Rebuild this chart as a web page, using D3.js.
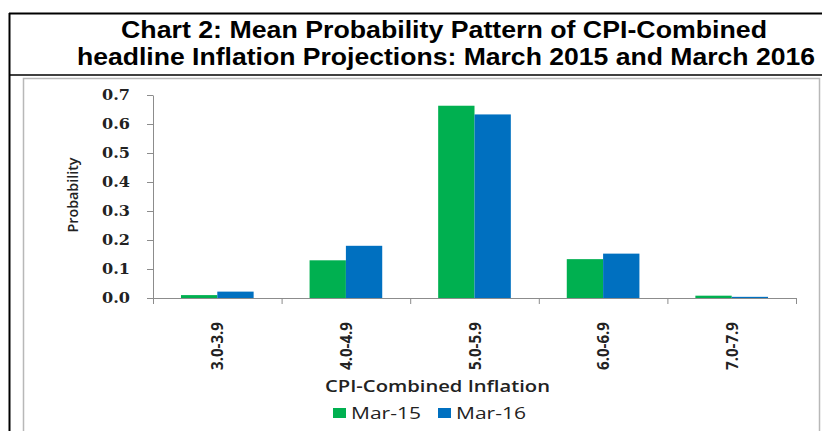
<!DOCTYPE html>
<html>
<head>
<meta charset="utf-8">
<script src="https://cdn.jsdelivr.net/npm/d3@7"></script>
<style>
  body { margin: 0; background: #fff; }
  svg { display: block; }
</style>
</head>
<body>
<svg class="chart" width="822" height="431"></svg>
<script>
"use strict";

let categories = ["3.0-3.9", "4.0-4.9", "5.0-5.9", "6.0-6.9", "7.0-7.9"];
let seriesNames = ["Mar-15", "Mar-16"];
let mar15 = [0.01, 0.13, 0.663, 0.134, 0.008];
let mar16 = [0.022, 0.18, 0.633, 0.153, 0.004];
let yTicks = [0, 0.1, 0.2, 0.3, 0.4, 0.5, 0.6, 0.7];
let colors = ["#00b050", "#0070c0"];

let svg = d3.select('.chart');

// outer frame of the table cell
svg.append('line').attr('x1', 9.5).attr('x2', 9.5).attr('y1', 13).attr('y2', 431)
  .attr('stroke', '#000').attr('stroke-width', 2);
svg.append('line').attr('x1', 9).attr('x2', 822).attr('y1', 13.5).attr('y2', 13.5)
  .attr('stroke', '#000').attr('stroke-width', 2);
svg.append('line').attr('x1', 9).attr('x2', 822).attr('y1', 75).attr('y2', 75)
  .attr('stroke', '#000').attr('stroke-width', 1.5);

// chart area border
svg.append('rect').attr('x', 23.5).attr('y', 78.5).attr('width', 796).attr('height', 360)
  .attr('fill', '#fff').attr('stroke', '#b8b8b8').attr('stroke-width', 1.5);

// title
let titleLines = [
  { text: "Chart 2: Mean Probability Pattern of CPI-Combined", x: 121, y: 38, w: 646 },
  { text: "headline Inflation Projections: March 2015 and March 2016", x: 77, y: 65, w: 738 }
];
svg.selectAll('.title')
  .data(titleLines)
  .enter()
  .append('text')
  .attr('class', 'title')
  .attr('x', d => d.x)
  .attr('y', d => d.y)
  .attr('textLength', d => d.w)
  .attr('lengthAdjust', 'spacingAndGlyphs')
  .style('font-family', 'Liberation Sans, Arial, sans-serif')
  .style('font-weight', 'bold')
  .style('font-size', '24px')
  .style('fill', '#000')
  .text(d => d.text);

let margin = { left: 153, right: 796, top: 95, bottom: 298 };

let x0 = d3.scaleBand()
  .domain(categories)
  .range([margin.left, margin.right]);

let x1 = d3.scaleBand()
  .domain(seriesNames)
  .range([0, x0.bandwidth()])
  .paddingInner(0)
  .paddingOuter(0.77);

let y = d3.scaleLinear()
  .domain([0, 0.7])
  .range([margin.bottom, margin.top]);

// y axis
let yAxis = svg.append('g')
  .attr('transform', "translate(" + margin.left + ",0)")
  .call(d3.axisLeft(y).tickValues(yTicks).tickFormat(d3.format(".1f")).tickSize(6).tickSizeOuter(0));
yAxis.select('.domain').attr('stroke', '#8c8c8c');
yAxis.selectAll('.tick line').attr('stroke', '#8c8c8c');
yAxis.selectAll('.tick text')
  .attr('x', -23)
  .attr('textLength', 28)
  .attr('lengthAdjust', 'spacingAndGlyphs')
  .style('font-family', 'DejaVu Serif, serif')
  .style('font-weight', 'bold')
  .style('font-size', '15px')
  .style('fill', '#222');

// bars
let data = categories.map((c, i) => ({ cat: c, values: [mar15[i], mar16[i]] }));
let groups = svg.selectAll('.group')
  .data(data)
  .enter()
  .append('g')
  .attr('class', 'group')
  .attr('transform', d => "translate(" + x0(d.cat) + ",0)");

groups.selectAll('rect')
  .data(d => d.values.map((v, j) => ({ name: seriesNames[j], value: v, color: colors[j] })))
  .enter()
  .append('rect')
  .attr('x', d => x1(d.name))
  .attr('width', x1.bandwidth())
  .attr('y', d => y(d.value))
  .attr('height', d => y(0) - y(d.value))
  .attr('fill', d => d.color);

// x axis line and boundary ticks
svg.append('line')
  .attr('x1', margin.left).attr('x2', margin.right)
  .attr('y1', y(0) + 0.5).attr('y2', y(0) + 0.5)
  .attr('stroke', '#8c8c8c');
let boundaries = categories.map(c => x0(c)).concat([x0(categories[categories.length - 1]) + x0.bandwidth()]);
svg.selectAll('.xtick')
  .data(boundaries)
  .enter()
  .append('line')
  .attr('class', 'xtick')
  .attr('x1', d => d + 0.5).attr('x2', d => d + 0.5)
  .attr('y1', y(0)).attr('y2', y(0) + 6)
  .attr('stroke', '#8c8c8c');

// category labels, rotated
svg.selectAll('.xlabel')
  .data(categories)
  .enter()
  .append('text')
  .attr('class', 'xlabel')
  .attr('transform', d => "translate(" + (x0(d) + x0.bandwidth() / 2 + 6) + ",370) rotate(-90)")
  .attr('textLength', 48)
  .attr('lengthAdjust', 'spacingAndGlyphs')
  .style('font-family', 'Open Sans, sans-serif')
  .style('font-weight', 'bold')
  .style('font-size', '16px')
  .style('fill', '#222')
  .text(d => d);

// axis titles
svg.append('text')
  .attr('transform', "translate(78,195) rotate(-90)")
  .attr('text-anchor', 'middle')
  .attr('textLength', 75)
  .attr('lengthAdjust', 'spacingAndGlyphs')
  .style('font-family', 'Open Sans, sans-serif')
  .style('font-weight', '600')
  .style('font-size', '15px')
  .style('fill', '#222')
  .text("Probability");

svg.append('text')
  .attr('x', 325)
  .attr('y', 392)
  .attr('textLength', 225)
  .attr('lengthAdjust', 'spacingAndGlyphs')
  .style('font-family', 'Open Sans, sans-serif')
  .style('font-weight', '600')
  .style('font-size', '15.5px')
  .style('fill', '#222')
  .text("CPI-Combined Inflation");

// legend
let legendX = [333, 438];
let legend = svg.selectAll('.legend')
  .data(seriesNames)
  .enter()
  .append('g')
  .attr('class', 'legend')
  .attr('transform', (d, i) => "translate(" + legendX[i] + ",408)");
legend.append('rect')
  .attr('width', 13)
  .attr('height', 10)
  .attr('fill', (d, i) => colors[i]);
legend.append('text')
  .attr('x', 18)
  .attr('y', 10.5)
  .attr('textLength', 70)
  .attr('lengthAdjust', 'spacingAndGlyphs')
  .style('font-family', 'Open Sans, sans-serif')
  .style('font-size', '15.5px')
  .style('fill', '#222')
  .text(d => d);
</script>
</body>
</html>
